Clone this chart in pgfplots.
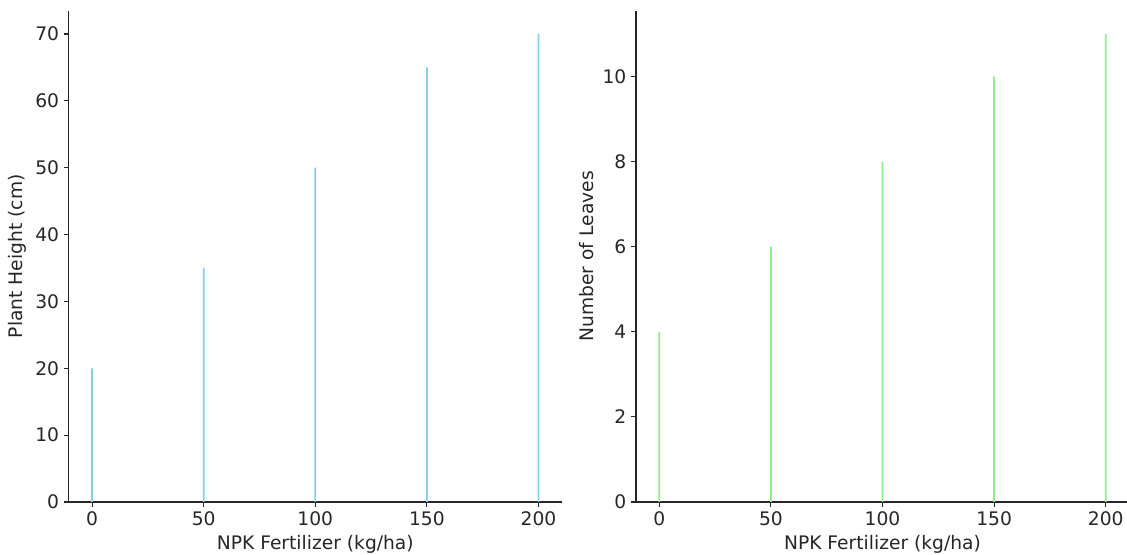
\documentclass[border=0pt]{standalone}
\usepackage{pgfplots}
\pgfplotsset{compat=1.18}
\usepackage{fontspec}
\setmainfont{DejaVu Sans}
\definecolor{skyblue}{HTML}{87CEEB}
\definecolor{lightgreen}{HTML}{90EE90}
\definecolor{ink}{HTML}{262626}

\pgfplotsset{
  panel/.style={
    scale only axis,
    width=369.75pt, height=368.55pt,
    anchor=south west,
    axis x line*=bottom, axis y line*=left,
    axis line style={ink, line width=1pt, -},
    tick align=outside,
    major tick length=3.75pt,
    tick style={ink, line width=0.8pt},
    xmin=-10.44, xmax=210.44, ymin=0,
    xtick={0,50,...,200},
    ybar, bar width=0.8,
    font=\fontsize{14}{17}\selectfont,
    tick label style={font=\fontsize{14}{17}\selectfont, text=ink},
    label style={font=\fontsize{14}{17}\selectfont, text=ink},
    /pgf/number format/assume math mode=true,
    xlabel={NPK Fertilizer (kg/ha)},
  }
}

\begin{document}
\begin{tikzpicture}
\path[use as bounding box] (0,0) rectangle (845.25pt,416.25pt);

\begin{axis}[panel, at={(51.6pt,39.75pt)},
  ymax=73.5, ytick={0,10,...,70},
  ylabel={Plant Height (cm)}]
  \addplot[fill=skyblue, draw=none] coordinates {(0,20) (50,35) (100,50) (150,65) (200,70)};
\end{axis}

\begin{axis}[panel, at={(477pt,39.75pt)},
  ymax=11.55, ytick={0,2,...,10},
  ylabel={Number of Leaves}]
  \addplot[fill=lightgreen, draw=none] coordinates {(0,4) (50,6) (100,8) (150,10) (200,11)};
\end{axis}
\end{tikzpicture}
\end{document}
